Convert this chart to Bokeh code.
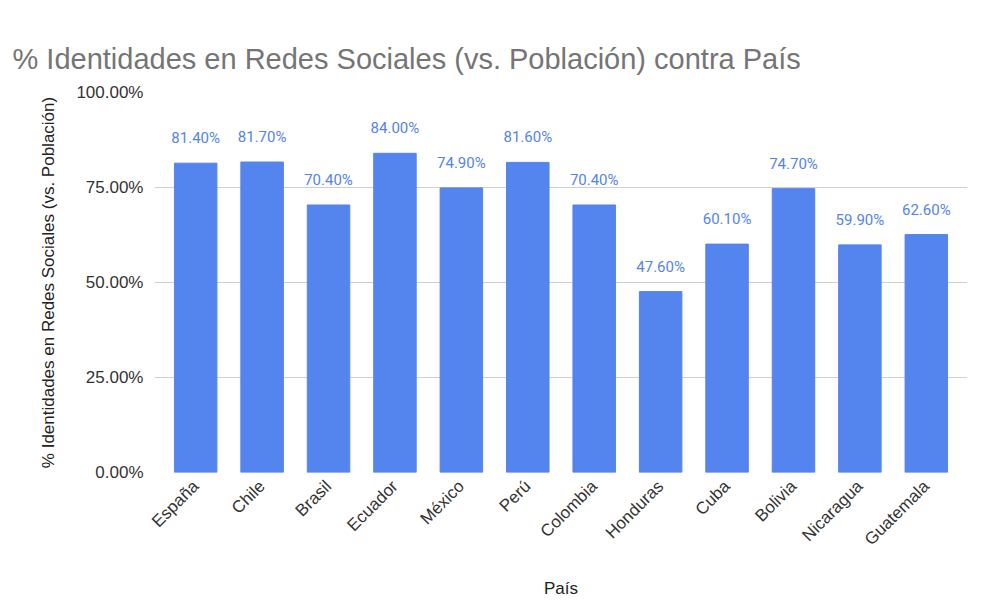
import math
from bokeh.plotting import figure
from bokeh.models import ColumnDataSource, NumeralTickFormatter, FixedTicker, Range1d, LabelSet
from bokeh.core.properties import value
from bokeh.embed import file_html
from bokeh.resources import INLINE

countries = ["España", "Chile", "Brasil", "Ecuador", "México", "Perú", "Colombia",
             "Honduras", "Cuba", "Bolivia", "Nicaragua", "Guatemala"]
values = [0.814, 0.817, 0.704, 0.840, 0.749, 0.816, 0.704, 0.476, 0.601, 0.747, 0.599, 0.626]
labels = [f"{v*100:.2f}%" for v in values]

src = ColumnDataSource(dict(x=countries, top=values, lab=labels))
blue = "#5484ED"
p = figure(x_range=countries, y_range=Range1d(0, 1.0), width=990, height=600,
           output_backend="svg", toolbar_location=None,
           min_border_left=154, min_border_right=23, min_border_top=92, min_border_bottom=112,
           title="% Identidades en Redes Sociales (vs. Población) contra País")
p.vbar(x="x", top="top", width=0.64, color=blue, source=src)
p.add_layout(LabelSet(x="x", y="top", text="lab", source=src, text_align="center",
                      y_offset=16, text_color=blue, text_font_size="15px",
                      text_font=value("Roboto")))
p.title.text_font_size = "29px"
p.title.text_font_style = "normal"
p.title.text_color = "#757575"
p.title.text_font = "Liberation Sans"
p.title.offset = -142
p.title.standoff = 35
p.yaxis.ticker = FixedTicker(ticks=[0, 0.25, 0.5, 0.75, 1.0])
p.yaxis.formatter = NumeralTickFormatter(format="0.00%")
p.xaxis.major_label_orientation = math.pi / 4
for ax in (p.xaxis, p.yaxis):
    ax.axis_line_color = None
    ax.major_tick_line_color = None
    ax.minor_tick_line_color = None
    ax.major_label_text_font_size = "17px"
    ax.major_label_text_color = "#333333"
    ax.major_label_text_font = "Liberation Sans"
    ax.axis_label_text_font_size = "17px"
    ax.axis_label_text_font_style = "normal"
    ax.axis_label_text_color = "#222222"
    ax.axis_label_text_font = "Liberation Sans"
p.xaxis.axis_label = "País"
p.yaxis.axis_label = "% Identidades en Redes Sociales (vs. Población)"
p.xaxis.axis_label_standoff = 20
p.yaxis.axis_label_standoff = 15
p.xgrid.grid_line_color = None
p.ygrid.grid_line_color = "#d0d0d0"
p.outline_line_color = None
p.x_range.range_padding = 0.02

open("out.html", "w").write(file_html(p, INLINE))
